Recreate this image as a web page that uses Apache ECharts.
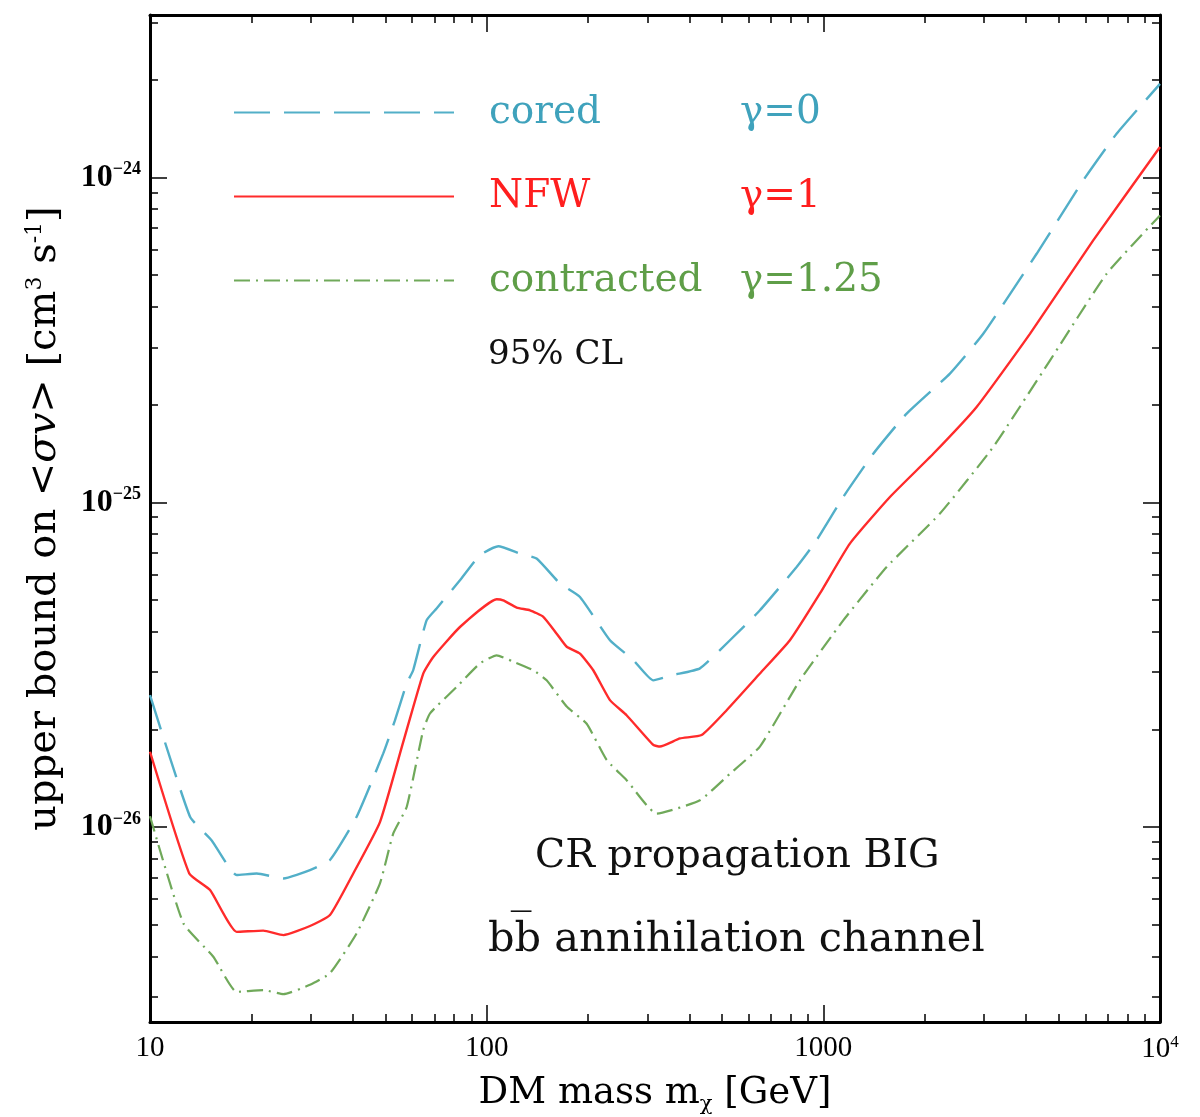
<!DOCTYPE html>
<html><head><meta charset="utf-8">
<script src="https://cdn.jsdelivr.net/npm/echarts@6/dist/echarts.min.js"></script>
<style>html,body{margin:0;padding:0;background:#fff}#c{width:1200px;height:1117px}</style>
</head><body><div id="c"></div>
<script>
// ---- data (DM mass in GeV, upper bound on <sigma v> in cm^3 s^-1) ----
const coredMass = [10, 13.15, 15.25, 18.09, 20.75, 24.9, 29.87, 34.24, 41.1, 49.3, 53.4, 57.9, 60.5, 66.3, 71.0, 83.3, 95.5, 108.3, 125.6, 140.7, 165.1, 189.3, 232.4, 272.5, 312.5, 358.3, 430, 528, 648, 833, 955, 1146, 1407, 1768, 2377, 2985, 4301, 5913, 7430, 10000];
const coredVal = [2.55e-26, 1.076e-26, 9.1e-27, 7.12e-27, 7.2e-27, 6.95e-27, 7.37e-27, 7.92e-27, 1.076e-26, 1.686e-26, 2.13e-26, 2.77e-26, 3.04e-26, 4.33e-26, 4.71e-26, 5.75e-26, 6.87e-26, 7.32e-26, 6.95e-26, 6.71e-26, 5.62e-26, 5.11e-26, 3.76e-26, 3.27e-26, 2.83e-26, 2.94e-26, 3.08e-26, 3.76e-26, 4.65e-26, 6.32e-26, 7.64e-26, 1.038e-25, 1.41e-25, 1.875e-25, 2.49e-25, 3.30e-25, 5.82e-25, 9.79e-25, 1.363e-24, 1.94e-24];

const nfwMass = [10, 13.08, 15.08, 18.09, 21.7, 24.9, 29.87, 34.24, 40.16, 48.2, 56.5, 64.8, 69.4, 83.3, 107.1, 112.0, 122.8, 134.5, 147.3, 161.4, 172.9, 189.3, 207.3, 232.4, 260.4, 312.5, 327.1, 375.1, 435, 516.2, 648.1, 795.6, 977, 1199, 1577, 2121, 2853, 4108, 6333, 10000];
const nfwVal = [1.706e-26, 7.2e-27, 6.4e-27, 4.76e-27, 4.80e-27, 4.65e-27, 4.96e-27, 5.36e-27, 7.2e-27, 1.036e-26, 1.826e-26, 2.97e-26, 3.34e-26, 4.13e-26, 5.03e-26, 4.99e-26, 4.74e-26, 4.65e-26, 4.44e-26, 3.94e-26, 3.59e-26, 3.42e-26, 3.04e-26, 2.46e-26, 2.21e-26, 1.79e-26, 1.77e-26, 1.875e-26, 1.92e-26, 2.29e-26, 2.97e-26, 3.76e-26, 5.24e-26, 7.46e-26, 1.038e-25, 1.41e-25, 1.965e-25, 3.30e-25, 6.40e-25, 1.24e-24];

const contrMass = [10, 12.56, 15.42, 18.09, 21.7, 24.9, 29.87, 34.24, 41.1, 48.2, 52.8, 57.9, 64.8, 67.9, 81.4, 95.5, 107.1, 120, 137.6, 150.7, 172.9, 198.2, 227.2, 260.4, 319.8, 430, 528, 648, 852, 1146, 1542, 2220, 3196, 4710, 6941, 10000];
const contrVal = [1.08e-26, 5.06e-27, 3.99e-27, 3.11e-27, 3.15e-27, 3.06e-27, 3.27e-27, 3.55e-27, 4.71e-27, 6.71e-27, 9.56e-27, 1.155e-26, 1.99e-26, 2.24e-26, 2.70e-26, 3.19e-26, 3.38e-26, 3.23e-26, 3.04e-26, 2.83e-26, 2.35e-26, 2.08e-26, 1.61e-26, 1.395e-26, 1.10e-26, 1.21e-26, 1.46e-26, 1.77e-26, 2.83e-26, 4.33e-26, 6.32e-26, 9.23e-26, 1.48e-25, 2.73e-25, 5.05e-25, 7.64e-25];

const seriesNames = ['cored', 'NFW', 'contracted'];
const gammaLabels = ['γ=0', 'γ=1', 'γ=1.25'];

// axis ticks
const xMajorTicks = [10, 100, 1000, 10000];
const xTickLabels = ['10', '100', '1000', '10^4'];
const yMajorTicks = [1e-26, 1e-25, 1e-24];
const yTickLabels = ['10^-26', '10^-25', '10^-24'];
const xRange = [10, 10000];
const yRange = [2.512e-27, 3.162e-24];

// ---- build ----
const L = v => Math.log10(v);
function minorTicks(lo, hi) {
  const out = [];
  for (let e = Math.floor(L(lo)); e <= Math.ceil(L(hi)); e++) {
    for (let k = 2; k <= 9; k++) {
      const v = k * Math.pow(10, e);
      if (v >= lo && v <= hi) out.push(L(v));
    }
  }
  return out;
}
const xMajor = xMajorTicks.map(L), yMajor = yMajorTicks.map(L);
const xMinor = minorTicks(xRange[0], xRange[1]), yMinor = minorTicks(yRange[0], yRange[1]);
function fmtPow(s, baseStyle, supStyle) {
  const m = s.match(/^10\^(.*)$/);
  if (!m) return '{' + baseStyle + '|' + s + '}';
  return '{' + baseStyle + '|10}{' + supStyle + '|' + m[1].replace('-', '−') + '}';
}
const pts = (ms, vs) => ms.map((m, i) => [L(m), L(vs[i])]);

const SERIF = 'DejaVu Serif';
const cCyan = '#52afc8', cRed = '#ff2b2b', cGreen = '#70a95a';
const tCyan = '#3fa2bc', tRed = '#ff1e1e', tGreen = '#5f9e48';

function xAx(pos, major, withLabel, withLine) {
  return {
    type: 'value', min: L(xRange[0]), max: L(xRange[1]), position: pos, gridIndex: 0,
    axisLine: { show: withLine, onZero: false, lineStyle: { color: '#000', width: 3 } },
    axisTick: { show: true, inside: true, length: major ? 17 : 8, customValues: major ? xMajor : xMinor,
      lineStyle: { color: '#000', width: 1.5 } },
    axisLabel: withLabel ? {
      show: true, customValues: xMajor, margin: 12, color: '#000',
      formatter: v => fmtPow(xTickLabels[xMajor.findIndex(t => Math.abs(t - v) < 1e-9)], 'b', 's'),
      rich: { b: { fontFamily: 'Liberation Serif', fontSize: 29, color: '#000' },
              s: { fontFamily: 'Liberation Serif', fontSize: 17, color: '#000', padding: [0, 0, 14, 0] } }
    } : { show: false },
    splitLine: { show: false },
    name: withLabel ? 'DM mass m{sub|χ} [GeV]' : '',
    nameLocation: 'middle', nameGap: 50,
    nameTextStyle: { fontFamily: SERIF, fontSize: 37, color: '#000',
      rich: { sub: { fontFamily: SERIF, fontSize: 21, color: '#000', padding: [22, 0, 0, 0] } } }
  };
}
function yAx(pos, major, withLabel, withLine) {
  return {
    type: 'value', min: L(yRange[0]), max: L(yRange[1]), position: pos, gridIndex: 0,
    axisLine: { show: withLine, onZero: false, lineStyle: { color: '#000', width: 3 } },
    axisTick: { show: true, inside: true, length: major ? 17 : 8, customValues: major ? yMajor : yMinor,
      lineStyle: { color: '#000', width: 1.5 } },
    axisLabel: withLabel ? {
      show: true, customValues: yMajor, margin: 9, color: '#000',
      formatter: v => fmtPow(yTickLabels[yMajor.findIndex(t => Math.abs(t - v) < 1e-9)], 'b', 's'),
      rich: { b: { fontFamily: 'Liberation Serif', fontSize: 32, fontWeight: 'bold', color: '#000' },
              s: { fontFamily: 'Liberation Serif', fontSize: 18, fontWeight: 'bold', color: '#000', padding: [0, 0, 16, 0] } }
    } : { show: false },
    splitLine: { show: false },
    name: withLabel ? 'upper bound on <{i|σv}> [cm{sup|3} s{sup|-1}]' : '',
    nameLocation: 'middle', nameGap: 84, nameRotate: 90,
    nameTextStyle: { fontFamily: SERIF, fontSize: 40, color: '#000',
      rich: { i: { fontFamily: SERIF, fontStyle: 'italic', fontSize: 40, color: '#000' },
              sup: { fontFamily: SERIF, fontSize: 22, color: '#000', padding: [0, 0, 20, 0] } } }
  };
}

const chart = echarts.init(document.getElementById('c'), null, { renderer: 'canvas' });
chart.setOption({
  backgroundColor: '#fff',
  animation: false,
  grid: { left: 150, right: 40, top: 15, bottom: 95, containLabel: false, outerBoundsMode: 'none' },
  xAxis: [xAx('bottom', true, true, true), xAx('bottom', false, false, false),
          xAx('top', true, false, true), xAx('top', false, false, false)],
  yAxis: [yAx('left', true, true, true), yAx('left', false, false, false),
          yAx('right', true, false, true), yAx('right', false, false, false)],
  legend: {
    orient: 'vertical', left: 233, top: 93, padding: 0, itemWidth: 220, itemHeight: 36, itemGap: 45,
    itemStyle: { opacity: 0 },
    selectedMode: false,
    data: [
      { name: seriesNames[0], textStyle: { color: tCyan } },
      { name: seriesNames[1], textStyle: { color: tRed } },
      { name: seriesNames[2], textStyle: { color: tGreen } }
    ],
    formatter: name => '{n|' + name + '}{g|' + gammaLabels[seriesNames.indexOf(name)] + '}',
    textStyle: { fontFamily: SERIF, fontSize: 39,
      rich: { n: { fontFamily: SERIF, fontSize: 39, width: 251, padding: [0, 0, 0, 30] },
              g: { fontFamily: SERIF, fontSize: 39 } } }
  },
  graphic: [
    { type: 'text', x: 488, y: 355, style: { text: '95% CL', fontFamily: SERIF, fontSize: 34, fill: '#111', verticalAlign: 'middle' } },
    { type: 'text', x: 535, y: 857, style: { text: 'CR propagation BIG', fontFamily: SERIF, fontSize: 39.5, fill: '#111', verticalAlign: 'middle' } },
    { type: 'text', x: 488, y: 940, style: { text: 'bb\u0305 annihilation channel', fontFamily: SERIF, fontSize: 41.5, fill: '#111', verticalAlign: 'middle' } }
  ],
  series: [
    { name: seriesNames[0], type: 'line', xAxisIndex: 0, yAxisIndex: 0, data: pts(coredMass, coredVal),
      showSymbol: false, symbol: 'none', smooth: 0.15,
      lineStyle: { color: cCyan, width: 2.4, type: [36, 14] }, itemStyle: { color: cCyan } },
    { name: seriesNames[1], type: 'line', xAxisIndex: 0, yAxisIndex: 0, data: pts(nfwMass, nfwVal),
      showSymbol: false, symbol: 'none', smooth: 0.15,
      lineStyle: { color: cRed, width: 2.4, type: 'solid' }, itemStyle: { color: cRed } },
    { name: seriesNames[2], type: 'line', xAxisIndex: 0, yAxisIndex: 0, data: pts(contrMass, contrVal),
      showSymbol: false, symbol: 'none', smooth: 0.15,
      lineStyle: { color: cGreen, width: 2.2, type: [16, 6, 2, 6] }, itemStyle: { color: cGreen } }
  ]
});
</script></body></html>
